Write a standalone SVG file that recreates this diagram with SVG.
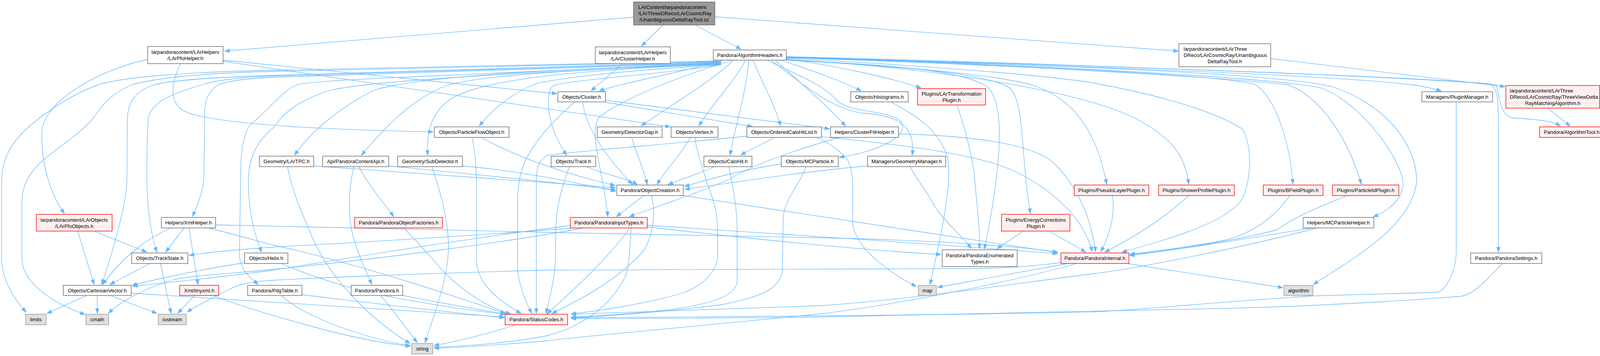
<svg xmlns="http://www.w3.org/2000/svg" width="4193" height="912" viewBox="0 0 4193 912">
<style>
.e{fill:none;stroke:#63b8ff;stroke-width:1.3;marker-end:url(#a)}
.n{fill:#ffffff;stroke:#666666;stroke-width:1.4}
.r{fill:#fff0f0;stroke:#ff0000;stroke-width:1.4}
.s{fill:#e0e0e0;stroke:#999999;stroke-width:1.4}
.o{fill:#999999;stroke:#666666;stroke-width:1.4}
text{font-family:"Liberation Sans",Arial,Helvetica,sans-serif;font-size:13px;fill:#000000}
.c{text-anchor:middle}
.l{text-anchor:start}
</style>
<defs>
<marker id="a" markerWidth="13" markerHeight="10" refX="13" refY="5" orient="auto" markerUnits="userSpaceOnUse"><path d="M0,0.3 L13,5 L0,9.7 z" fill="#63b8ff" stroke="#63b8ff" stroke-width="1"/></marker>
</defs>
<rect width="4193" height="912" fill="#ffffff"/>
<g id="edges">
<path class="e" d="M1622,44 L575,131"/>
<path class="e" d="M1697,64 L1642,118"/>
<path class="e" d="M1779,64 L1897,126"/>
<path class="e" d="M1830,43 L3017,131"/>
<path class="e" d="M3253,150 L3853,222"/>
<path class="e" d="M3962,277 L4020,323"/>
<path class="e" d="M2013,145 C2600,160 3600,195 3830,217 C3840,250 3838,290 3870,302 C3920,305 3970,308 3995,323"/>
<path class="e" d="M2013,147 C2800,170 3450,195 3620,218 C3650,222 3672,228 3690,233"/>
<path class="e" d="M2013,146 C2800,168 3600,195 3815,215 C3834,225 3836,260 3836,320 L3836,646"/>
<path class="e" d="M1846,156 C1400,166 900,176 700,180 C500,184 330,195 259,215 C180,240 80,310 40,360 C10,400 4,430 4,480 L4,660 C4,720 40,770 67,800"/>
<path class="e" d="M1846,157 C1400,168 900,178 700,183 C500,188 400,200 339,217 C290,235 260,270 241,300 C200,350 140,380 100,420 C70,450 56,480 56,520 L56,660 C56,720 120,770 218,806"/>
<path class="e" d="M1846,158 C1400,172 900,186 700,193 C550,198 440,205 393,218 C340,235 326,270 326,310 L325,456 C325,520 290,640 260,729"/>
<path class="e" d="M1846,159 C1400,175 900,190 700,195 C620,198 560,205 527,214 C440,240 390,260 380,300 C376,340 376,400 376,456 C376,520 385,600 402,646"/>
<path class="e" d="M1846,160 C1400,178 900,192 700,198 C620,202 580,208 558,218 C530,235 525,260 524,290 L522,456 C520,490 505,525 493,555"/>
<path class="e" d="M1846,161 C1600,172 1400,182 1100,195 C900,203 780,210 758,218 C720,235 680,290 640,320 C620,350 616,400 616,456 L613,650 C612,690 640,710 661,729"/>
<path class="e" d="M1846,162 C1500,180 1000,200 850,230 C750,260 720,300 700,327 C660,360 638,400 636,456 C634,530 650,600 670,646"/>
<path class="e" d="M1846,163 C1500,175 1100,190 960,230 C880,270 800,330 754,398"/>
<path class="e" d="M1846,164 C1500,178 1250,190 1146,218 C1060,250 990,320 925,398"/>
<path class="e" d="M1846,165 C1500,178 1250,200 1160,250 C1110,280 1090,330 1095,398"/>
<path class="e" d="M1846,166 C1600,180 1430,200 1370,215 C1310,240 1260,280 1227,323"/>
<path class="e" d="M1846,166 C1700,190 1450,205 1415,220 C1395,240 1398,320 1451,398"/>
<path class="e" d="M1848,155 C1750,185 1600,210 1534,233"/>
<path class="e" d="M1877,155 C1820,210 1700,280 1641,323"/>
<path class="e" d="M1908,155 C1880,210 1820,270 1789,323"/>
<path class="e" d="M1928,155 C1950,210 1985,270 1998,323"/>
<path class="e" d="M1917,155 C1910,240 1880,330 1869,398"/>
<path class="e" d="M1985,155 C2060,220 2130,285 2165,323"/>
<path class="e" d="M2000,155 C2080,180 2160,210 2205,233"/>
<path class="e" d="M2013,151 C2150,170 2280,200 2358,225"/>
<path class="e" d="M1965,155 C2060,200 2110,220 2140,255 C2170,290 2270,280 2305,310 C2335,350 2240,390 2148,403"/>
<path class="e" d="M1975,155 C2060,220 2130,280 2210,290 C2300,295 2345,325 2335,398"/>
<path class="e" d="M1873,155 C1740,195 1600,250 1534,300 C1505,340 1545,440 1556,555"/>
<path class="e" d="M2013,149 C2400,170 2700,195 2800,213 C2950,240 3100,280 3180,330 C3210,380 3200,470 3180,510 C3140,570 3000,610 2872,646"/>
<path class="e" d="M2013,152 C2400,175 2750,230 2900,300 C3000,350 3035,400 3043,472"/>
<path class="e" d="M2013,153 C2300,170 2550,190 2650,220 C2760,260 2810,350 2833,472"/>
<path class="e" d="M2013,154 C2350,172 2530,190 2585,225 C2625,265 2612,400 2638,547"/>
<path class="e" d="M2013,154 C2300,166 2460,182 2525,220 C2575,260 2565,420 2520,638"/>
<path class="e" d="M2013,148 C2700,170 3100,192 3210,215 C3262,245 3300,350 3310,472"/>
<path class="e" d="M2013,147 C2800,175 3200,205 3300,218 C3380,250 3450,350 3485,472"/>
<path class="e" d="M2013,146 C2900,175 3280,205 3380,225 C3470,255 3570,380 3590,455 C3600,500 3565,535 3515,556"/>
<path class="e" d="M2013,146 C2900,172 3300,195 3410,222 C3530,262 3620,350 3627,460 C3620,580 3450,670 3362,729"/>
<path class="e" d="M378,152 C250,180 110,260 107,340 C105,420 130,500 165,547"/>
<path class="e" d="M462,163 C435,220 430,275 490,292 C600,322 850,332 1109,338"/>
<path class="e" d="M571,154 L1426,240"/>
<path class="e" d="M571,157 L1716,325"/>
<path class="e" d="M1594,163 L1513,233"/>
<path class="e" d="M1550,262 L1926,324"/>
<path class="e" d="M1550,257 L2124,330"/>
<path class="e" d="M1471,261 C1440,290 1400,325 1370,370 C1340,410 1325,450 1325,520 L1325,689 C1328,730 1345,770 1361,803"/>
<path class="e" d="M1492,261 C1500,340 1570,420 1619,473"/>
<path class="e" d="M1983,352 L1896,397"/>
<path class="e" d="M1912,349 C1700,370 1450,390 1400,398 C1380,410 1373,430 1373,460 L1373,803"/>
<path class="e" d="M2103,350 C2250,365 2500,390 2600,440 C2700,490 2775,560 2796,645"/>
<path class="e" d="M2090,352 C2120,365 2150,385 2170,410 C2185,440 2183,470 2183,520 L2183,573 C2190,630 2260,690 2346,734"/>
<path class="e" d="M2149,352 C2050,380 1930,420 1873,456 C1800,490 1680,530 1611,555"/>
<path class="e" d="M2300,343 C2500,348 2650,370 2700,420 C2750,470 2790,540 2805,645"/>
<path class="e" d="M1458,427 C1445,460 1425,520 1423,580 L1422,663 C1420,720 1405,770 1398,803"/>
<path class="e" d="M1502,427 C1540,445 1600,455 1632,473"/>
<path class="e" d="M1617,352 C1632,400 1650,440 1657,473"/>
<path class="e" d="M1768,352 C1740,400 1700,440 1682,473"/>
<path class="e" d="M1779,352 C1785,400 1800,430 1810,470 C1835,530 1837,560 1837,600 L1837,663 C1830,700 1800,730 1750,750 C1650,780 1520,798 1462,804"/>
<path class="e" d="M1829,427 C1790,445 1740,460 1710,473"/>
<path class="e" d="M1866,427 C1875,470 1887,530 1887,589 L1887,723 C1880,760 1820,780 1700,795 C1600,805 1520,810 1462,812"/>
<path class="e" d="M2000,420 C1900,435 1810,460 1752,478"/>
<path class="e" d="M2063,427 C2050,470 2007,510 2005,560 L2003,689 C2000,740 1950,760 1850,780 C1700,800 1550,810 1462,814"/>
<path class="e" d="M2221,425 C2050,440 1900,465 1753,485"/>
<path class="e" d="M2330,427 C2340,450 2360,470 2400,540 C2440,590 2470,610 2486,637"/>
<path class="e" d="M1231,352 C1300,390 1420,440 1575,475"/>
<path class="e" d="M1209,352 C1218,400 1220,440 1220,500 L1220,673 C1225,720 1258,760 1334,803"/>
<path class="e" d="M803,425 C1000,440 1300,460 1576,481"/>
<path class="e" d="M736,427 C750,500 780,560 800,610 C850,720 950,820 1050,880"/>
<path class="e" d="M995,425 C1200,445 1400,465 1576,486"/>
<path class="e" d="M919,427 C940,470 975,510 1008,555"/>
<path class="e" d="M906,427 C895,470 890,530 900,590 C915,650 935,690 952,729"/>
<path class="e" d="M1184,425 C1350,440 1480,470 1577,490"/>
<path class="e" d="M1106,427 C1120,470 1150,560 1148,640 C1145,720 1110,810 1088,878"/>
<path class="e" d="M1648,501 L1578,555"/>
<path class="e" d="M1668,501 C1675,530 1680,580 1650,640 C1580,720 1480,770 1413,803"/>
<path class="e" d="M1749,501 C2000,540 2400,600 2707,647"/>
<path class="e" d="M1657,577 C2000,600 2400,625 2708,650"/>
<path class="e" d="M1657,581 C1900,610 2200,640 2409,652"/>
<path class="e" d="M1460,578 C1200,610 900,660 700,692 C550,712 420,725 340,733"/>
<path class="e" d="M1469,584 C1200,605 900,622 700,633 C600,640 530,647 484,654"/>
<path class="e" d="M1494,584 C1300,620 1000,660 700,690 C600,700 500,705 446,716 C380,735 310,770 277,803"/>
<path class="e" d="M1612,584 C1560,660 1450,760 1400,804"/>
<path class="e" d="M1616,584 C1612,640 1610,690 1600,710 C1560,790 1480,840 1400,860 C1300,880 1180,887 1111,890"/>
<path class="e" d="M437,584 C380,610 320,650 263,729"/>
<path class="e" d="M471,584 L424,646"/>
<path class="e" d="M484,584 L507,729"/>
<path class="e" d="M552,576 C1000,590 1600,598 2100,609 C2400,616 2600,630 2708,646"/>
<path class="e" d="M533,584 C600,600 650,615 700,628 C850,660 1050,720 1294,803"/>
<path class="e" d="M199,592 L241,729"/>
<path class="e" d="M241,592 L376,646"/>
<path class="e" d="M384,675 L281,729"/>
<path class="e" d="M411,675 L438,803"/>
<path class="e" d="M222,757 L120,803"/>
<path class="e" d="M249,757 L249,803"/>
<path class="e" d="M282,757 L402,803"/>
<path class="e" d="M336,751 C500,760 800,780 1291,812"/>
<path class="e" d="M626,673 C520,690 420,710 338,731"/>
<path class="e" d="M720,675 C800,710 900,740 977,756 C1100,780 1200,795 1294,805"/>
<path class="e" d="M498,757 L455,803"/>
<path class="e" d="M547,757 C600,780 700,810 850,850 C940,872 1000,882 1051,887"/>
<path class="e" d="M773,755 C900,770 1100,795 1291,814"/>
<path class="e" d="M720,758 C760,790 800,810 850,830 C930,860 1000,878 1051,886"/>
<path class="e" d="M1031,757 C1120,775 1210,790 1297,805"/>
<path class="e" d="M975,758 C1010,800 1040,840 1068,878"/>
<path class="e" d="M1033,584 C1070,620 1100,656 1140,700 C1200,760 1260,790 1307,804"/>
<path class="e" d="M1320,832 C1250,855 1170,875 1111,885"/>
<path class="e" d="M2734,675 L2400,736"/>
<path class="e" d="M2885,675 L3284,737"/>
<path class="e" d="M2716,673 C2650,680 2620,685 2500,688 L1400,692 C1100,700 800,712 700,718 C640,722 610,728 590,740 C540,765 500,785 479,800"/>
<path class="e" d="M2756,675 C2600,720 2300,780 2100,804 C1800,835 1500,860 1400,873 C1300,882 1180,890 1111,892"/>
<path class="e" d="M2618,593 L2552,637"/>
<path class="e" d="M2687,593 L2780,646"/>
<path class="e" d="M2848,501 C2852,530 2852,580 2818,645"/>
<path class="e" d="M3043,501 C2980,560 2900,610 2828,646"/>
<path class="e" d="M3302,501 C3260,560 3200,605 3112,620 C3020,635 2950,645 2892,651"/>
<path class="e" d="M3450,501 C3350,540 3300,565 3269,589 C3150,620 3000,640 2892,653"/>
<path class="e" d="M3358,584 C3200,610 3050,635 2892,655"/>
<path class="e" d="M3371,584 C3200,630 2900,690 2800,701 C2500,740 2300,770 2100,783 C1800,795 1600,800 1462,805"/>
<path class="e" d="M3728,261 L3728,640 C3728,700 3700,745 3679,749 C3600,752 3500,754 3362,758 C3100,775 2900,795 2800,799 C2400,808 1800,812 1462,814"/>
<path class="e" d="M3847,675 C3800,720 3780,750 3741,759 C3600,770 3500,776 3300,785 C3000,795 2800,799 2100,812 C1800,816 1600,816 1462,816"/>
<path class="e" d="M2281,261 C2350,300 2400,330 2425,400 C2440,460 2410,600 2381,729"/>
<path class="e" d="M2450,269 C2470,330 2490,400 2495,456 C2500,520 2510,590 2507,637"/>
</g>
<g id="nodes">
<g id="root"><rect class="o" x="1622" y="5" width="208" height="59"/><text class="l" x="1634" y="23">LArContent/larpandoracontent</text><text class="l" x="1634" y="39">/LArThreeDReco/LArCosmicRay</text><text class="c" x="1726" y="55">/UnambiguousDeltaRayTool.cc</text></g>
<g id="pfoHelper"><rect class="n" x="378" y="119" width="193" height="44"/><text class="c" x="474.5" y="138">larpandoracontent/LArHelpers</text><text class="c" x="474.5" y="154">/LArPfoHelper.h</text></g>
<g id="clusterHelper"><rect class="n" x="1524" y="120" width="192" height="43"/><text class="c" x="1620" y="139">larpandoracontent/LArHelpers</text><text class="c" x="1620" y="155">/LArClusterHelper.h</text></g>
<g id="algHeaders"><rect class="n" x="1826" y="128" width="187" height="26"/><text class="c" x="1919.5" y="146">Pandora/AlgorithmHeaders.h</text></g>
<g id="udrtH"><rect class="n" x="3018" y="112" width="235" height="59"/><text class="l" x="3030" y="130">larpandoracontent/LArThree</text><text class="l" x="3030" y="146">DReco/LArCosmicRay/Unambiguous</text><text class="c" x="3135.5" y="162">DeltaRayTool.h</text></g>
<g id="threeView"><rect class="r" x="3855" y="219" width="240" height="58"/><text class="l" x="3865" y="237">larpandoracontent/LArThree</text><text class="l" x="3865" y="253">DReco/LArCosmicRay/ThreeViewDelta</text><text class="c" x="3975" y="269">RayMatchingAlgorithm.h</text></g>
<g id="cluster"><rect class="n" x="1428" y="235" width="122" height="26"/><text class="c" x="1489" y="253">Objects/Cluster.h</text></g>
<g id="histograms"><rect class="n" x="2178" y="235" width="147" height="26"/><text class="c" x="2251.5" y="253">Objects/Histograms.h</text></g>
<g id="larTransf"><rect class="r" x="2349" y="227" width="174" height="42"/><text class="c" x="2436" y="245">Plugins/LArTransformation</text><text class="c" x="2436" y="261">Plugin.h</text></g>
<g id="pluginMgr"><rect class="n" x="3640" y="235" width="181" height="26"/><text class="c" x="3730.5" y="253">Managers/PluginManager.h</text></g>
<g id="algTool"><rect class="r" x="3941" y="325" width="165" height="27"/><text class="c" x="4023.5" y="343">Pandora/AlgorithmTool.h</text></g>
<g id="pfo"><rect class="n" x="1112" y="325" width="191" height="27"/><text class="c" x="1207.5" y="343">Objects/ParticleFlowObject.h</text></g>
<g id="detGap"><rect class="n" x="1529" y="325" width="166" height="27"/><text class="c" x="1612" y="343">Geometry/DetectorGap.h</text></g>
<g id="vertex"><rect class="n" x="1718" y="325" width="120" height="27"/><text class="c" x="1778" y="343">Objects/Vertex.h</text></g>
<g id="ochl"><rect class="n" x="1912" y="325" width="191" height="27"/><text class="c" x="2007.5" y="343">Objects/OrderedCaloHitList.h</text></g>
<g id="cfHelper"><rect class="n" x="2126" y="325" width="174" height="27"/><text class="c" x="2213" y="343">Helpers/ClusterFitHelper.h</text></g>
<g id="larTPC"><rect class="n" x="664" y="400" width="139" height="27"/><text class="c" x="733.5" y="418">Geometry/LArTPC.h</text></g>
<g id="contentApi"><rect class="n" x="826" y="400" width="169" height="27"/><text class="c" x="910.5" y="418">Api/PandoraContentApi.h</text></g>
<g id="subDet"><rect class="n" x="1018" y="400" width="166" height="27"/><text class="c" x="1101" y="418">Geometry/SubDetector.h</text></g>
<g id="track"><rect class="n" x="1411" y="400" width="114" height="27"/><text class="c" x="1468" y="418">Objects/Track.h</text></g>
<g id="caloHit"><rect class="n" x="1802" y="400" width="123" height="27"/><text class="c" x="1863.5" y="418">Objects/CaloHit.h</text></g>
<g id="mcParticle"><rect class="n" x="2000" y="400" width="146" height="27"/><text class="c" x="2073" y="418">Objects/MCParticle.h</text></g>
<g id="geomMgr"><rect class="n" x="2221" y="400" width="200" height="27"/><text class="c" x="2321" y="418">Managers/GeometryManager.h</text></g>
<g id="objCreation"><rect class="n" x="1579" y="474" width="170" height="27"/><text class="c" x="1664" y="492">Pandora/ObjectCreation.h</text></g>
<g id="pseudoLayer"><rect class="r" x="2750" y="474" width="191" height="27"/><text class="c" x="2845.5" y="492">Plugins/PseudoLayerPlugin.h</text></g>
<g id="showerProfile"><rect class="r" x="2966" y="474" width="194" height="27"/><text class="c" x="3063" y="492">Plugins/ShowerProfilePlugin.h</text></g>
<g id="bfield"><rect class="r" x="3234" y="474" width="153" height="27"/><text class="c" x="3310.5" y="492">Plugins/BFieldPlugin.h</text></g>
<g id="particleId"><rect class="r" x="3411" y="474" width="170" height="27"/><text class="c" x="3496" y="492">Plugins/ParticleIdPlugin.h</text></g>
<g id="pfoObjects"><rect class="r" x="93" y="549" width="194" height="43"/><text class="c" x="190" y="567.5">larpandoracontent/LArObjects</text><text class="c" x="190" y="583.5">/LArPfoObjects.h</text></g>
<g id="xmlHelper"><rect class="n" x="413" y="557" width="139" height="27"/><text class="c" x="482.5" y="575">Helpers/XmlHelper.h</text></g>
<g id="factories"><rect class="r" x="908" y="557" width="225" height="27"/><text class="c" x="1020.5" y="575">Pandora/PandoraObjectFactories.h</text></g>
<g id="pit"><rect class="r" x="1460" y="557" width="197" height="27"/><text class="c" x="1558.5" y="575">Pandora/PandoraInputTypes.h</text></g>
<g id="energyCorr"><rect class="r" x="2564" y="549" width="175" height="43"/><text class="c" x="2651.5" y="567.5">Plugins/EnergyCorrections</text><text class="c" x="2651.5" y="583.5">Plugin.h</text></g>
<g id="mcpHelper"><rect class="n" x="3336" y="557" width="181" height="27"/><text class="c" x="3426.5" y="575">Helpers/MCParticleHelper.h</text></g>
<g id="trackState"><rect class="n" x="337" y="648" width="144" height="27"/><text class="c" x="409" y="666">Objects/TrackState.h</text></g>
<g id="helix"><rect class="n" x="626" y="648" width="111" height="27"/><text class="c" x="681.5" y="666">Objects/Helix.h</text></g>
<g id="enumTypes"><rect class="n" x="2412" y="640" width="192" height="43"/><text class="c" x="2508" y="658.5">Pandora/PandoraEnumerated</text><text class="c" x="2508" y="674.5">Types.h</text></g>
<g id="internal"><rect class="r" x="2716" y="648" width="174" height="27"/><text class="c" x="2803" y="666">Pandora/PandoraInternal.h</text></g>
<g id="settings"><rect class="n" x="3765" y="648" width="182" height="27"/><text class="c" x="3856" y="666">Pandora/PandoraSettings.h</text></g>
<g id="cartVec"><rect class="n" x="162" y="731" width="174" height="26"/><text class="c" x="249" y="749">Objects/CartesianVector.h</text></g>
<g id="tinyxml"><rect class="r" x="460" y="731" width="100" height="26"/><text class="c" x="510" y="749">Xml/tinyxml.h</text></g>
<g id="pdgTable"><rect class="n" x="634" y="731" width="139" height="26"/><text class="c" x="703.5" y="749">Pandora/PdgTable.h</text></g>
<g id="pandoraH"><rect class="n" x="899" y="731" width="132" height="26"/><text class="c" x="965" y="749">Pandora/Pandora.h</text></g>
<g id="map"><rect class="s" x="2351" y="731" width="46" height="26"/><text class="c" x="2374" y="749">map</text></g>
<g id="algorithm"><rect class="s" x="3287" y="731" width="74" height="26"/><text class="c" x="3324" y="749">algorithm</text></g>
<g id="limits"><rect class="s" x="66" y="805" width="52" height="27"/><text class="c" x="92" y="823">limits</text></g>
<g id="cmath"><rect class="s" x="220" y="805" width="58" height="27"/><text class="c" x="249" y="823">cmath</text></g>
<g id="iostream"><rect class="s" x="405" y="805" width="72" height="27"/><text class="c" x="441" y="823">iostream</text></g>
<g id="statusCodes"><rect class="r" x="1293" y="805" width="160" height="27"/><text class="c" x="1373" y="823">Pandora/StatusCodes.h</text></g>
<g id="string"><rect class="s" x="1054" y="880" width="54" height="27"/><text class="c" x="1081" y="898">string</text></g>
</g>
</svg>
